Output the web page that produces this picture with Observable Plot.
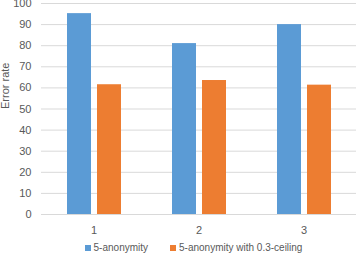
<!DOCTYPE html>
<html>
<head>
<meta charset="utf-8">
<script src="https://cdn.jsdelivr.net/npm/d3@7"></script>
<script src="https://cdn.jsdelivr.net/npm/@observablehq/plot@0.6"></script>
<style>
  html, body { margin: 0; padding: 0; background: #fff; }
  #chart { width: 356px; font-family: "Liberation Sans", Arial, sans-serif; }
  .legend { display: flex; justify-content: center; margin-left: 36px; width: 315px; gap: 22px;
            font-size: 10px; line-height: 11px; color: #595959; height: 11px; align-items: center; margin-top: 2px; }
  .legend span.sw { display: inline-block; width: 6px; height: 6px; margin-right: 3px; }
</style>
</head>
<body>
<div id="chart"></div>
<script>
const groups = ["1", "2", "3"];
const series = ["5-anonymity", "5-anonymity with 0.3-ceiling"];
const anonymity = [95.2, 81, 90];
const ceiling = [61.5, 63.5, 61.3];
const colors = ["#5B9BD5", "#ED7D31"];
const yTicks = [0, 10, 20, 30, 40, 50, 60, 70, 80, 90, 100];
const yLabel = "Error rate";

const data = groups.flatMap((g, i) => [
  {group: g, series: series[0], value: anonymity[i]},
  {group: g, series: series[1], value: ceiling[i]}
]);

const plot = Plot.plot({
  width: 356,
  height: 240,
  marginLeft: 41,
  marginRight: 0,
  marginTop: 3,
  marginBottom: 26,
  style: {fontFamily: "Liberation Sans, Arial, sans-serif", fontSize: "11px", color: "#595959", background: "white"},
  fx: {domain: groups, paddingInner: 0, paddingOuter: 0, label: null, axis: "bottom", tickSize: 0, tickPadding: 12},
  x: {domain: series, axis: null, paddingInner: 0.2, paddingOuter: 0.85},
  y: {domain: [0, 100], ticks: yTicks, tickSize: 0, tickPadding: 10, label: null},
  color: {domain: series, range: colors},
  marks: [
    Plot.ruleY(yTicks, {stroke: "#d9d9d9", strokeWidth: 1}),
    Plot.barY(data, {fx: "group", x: "series", y: "value", fill: "series"}),
    Plot.text([yLabel], {fx: () => groups[0], text: d => d, frameAnchor: "left", dx: -36, rotate: -90, fill: "#595959", fontSize: 11})
  ]
});
document.getElementById("chart").appendChild(plot);

const legend = document.createElement("div");
legend.className = "legend";
series.forEach((s, i) => {
  const item = document.createElement("div");
  const sw = document.createElement("span");
  sw.className = "sw";
  sw.style.background = colors[i];
  item.appendChild(sw);
  item.appendChild(document.createTextNode(s));
  legend.appendChild(item);
});
document.getElementById("chart").appendChild(legend);
</script>
</body>
</html>
